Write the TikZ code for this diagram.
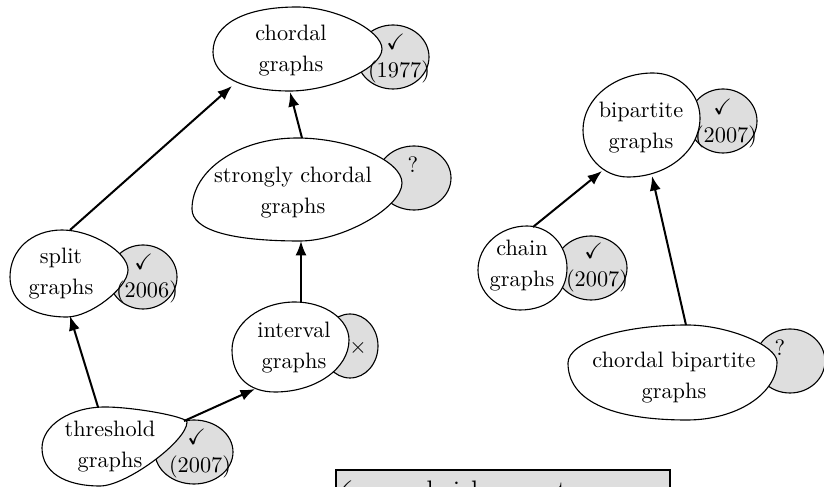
\documentclass[tikz,border=0pt]{standalone}
\usepackage{amssymb}
\usetikzlibrary{arrows.meta}
\begin{document}
\begin{tikzpicture}[x=0.4484pt,y=-0.4484pt,
  whiteblob/.style={draw=black, line width=0.5pt, fill=white},
  grayblob/.style={draw=black, line width=0.5pt, fill=black!13},
  lbl/.style={align=center, font=\fontsize{10}{14}\selectfont, inner sep=0pt},
  res/.style={align=center, font=\fontsize{10}{12.5}\selectfont, inner sep=0pt},
  arr/.style={line width=0.9pt, -{Latex[length=6.5pt,width=5pt]}}]
\useasboundingbox (0,0) rectangle (824,487);
\clip (0,0) rectangle (824,487);

% gray result blobs
\filldraw[grayblob] (393,57) ellipse [x radius=36, y radius=32];
\filldraw[grayblob] (414,178) ellipse [x radius=37, y radius=32];
\filldraw[grayblob] (143,277) ellipse [x radius=34, y radius=32];
\filldraw[grayblob] (350,346) ellipse [x radius=28, y radius=32];
\filldraw[grayblob] (194,452) ellipse [x radius=39, y radius=32];
\filldraw[grayblob] (723,121) ellipse [x radius=34, y radius=32];
\filldraw[grayblob] (591,268) ellipse [x radius=36, y radius=32];
\filldraw[grayblob] (790,361) ellipse [x radius=35, y radius=32];

% white class blobs
% chordal
\draw[whiteblob] (213,52) .. controls +(0,-27.9) and +(-52.1,0) .. (297,7)
  .. controls +(38.3,0) and +(0,-18.9) .. (382,49)
  .. controls +(0,18.9) and +(41.4,0) .. (290,91)
  .. controls +(-47.7,0) and +(0,24.2) .. (213,52) -- cycle;
% strongly chordal
\draw[whiteblob] (192,209) .. controls +(0,-39) and +(-57.8,0) .. (297,138)
  .. controls +(52.5,0) and +(0,-22.5) .. (402,183)
  .. controls +(0,24.4) and +(42.8,0) .. (300,241)
  .. controls +(-70.2,0) and +(0,20.8) .. (192,209) -- cycle;
% split
\draw[whiteblob] (10,277) .. controls +(0,-27.3) and +(-30.2,0) .. (62,230)
  .. controls +(29.7,0) and +(0,-18) .. (128,270)
  .. controls +(0,17.9) and +(23.2,0) .. (67,317)
  .. controls +(-35.3,0) and +(0,24.8) .. (10,277) -- cycle;
% interval
\draw[whiteblob] (232,350) .. controls +(0,-26.4) and +(-34.7,0) .. (295,302)
  .. controls +(29.7,0) and +(0,-20.9) .. (349,340)
  .. controls +(0,28.6) and +(40.7,0) .. (275,392)
  .. controls +(-26.7,0) and +(0,26) .. (232,350) -- cycle;
% threshold
\draw[whiteblob] (42,448) .. controls +(0,-22.6) and +(-34.7,0) .. (105,407)
  .. controls +(28.7,0) and +(0,-5.3) .. (187,422)
  .. controls +(0,19.2) and +(26.1,0) .. (100,486)
  .. controls +(-36,0) and +(0,23.6) .. (42,448) -- cycle;
% bipartite
\draw[whiteblob] (583,130) .. controls +(0,-31.4) and +(-38.5,0) .. (653,73)
  .. controls +(25.9,0) and +(0,-24.8) .. (700,118)
  .. controls +(0,32.5) and +(39.6,0) .. (628,177)
  .. controls +(-24.8,0) and +(0,25.9) .. (583,130) -- cycle;
% chain
\draw[whiteblob] (478,270) .. controls +(0,-24.2) and +(-27,0) .. (527,226)
  .. controls +(22,0) and +(0,-23.1) .. (567,268)
  .. controls +(0,25.2) and +(28.2,0) .. (520,310)
  .. controls +(-23.1,0) and +(0,22) .. (478,270) -- cycle;
% chordal bipartite
\draw[whiteblob] (568,363) .. controls +(0,-20.9) and +(-65.5,0) .. (687,325)
  .. controls +(40.5,0) and +(0,-16.7) .. (777,362)
  .. controls +(0,31.9) and +(49.5,0) .. (687,420)
  .. controls +(-77.4,0) and +(0,37) .. (568,363) -- cycle;

% class labels
\node[lbl] (chordal) at (291,50.3) {chordal\\graphs};
\node[lbl] (strongly) at (293,192.7) {strongly chordal\\graphs};
\node[lbl] (split) at (61,273.5) {split\\graphs};
\node[lbl] (interval) at (294,347.7) {interval\\graphs};
\node[lbl] (threshold) at (110,446.2) {threshold\\graphs};
\node[lbl] (bipartite) at (641,127.7) {bipartite\\graphs};
\node[lbl] (chain) at (522,265.2) {chain\\graphs};
\node[lbl] (chordbip) at (674,377.7) {chordal bipartite\\graphs};

% result labels
\node[res] (chordalres) at (399,58.3) {\mbox{\checkmark\kern3pt}\\(1977)};
\node[res] (splitres) at (147,278.3) {\mbox{\checkmark\kern3pt}\\(2006)};
\node[res] (thresholdres) at (200,453.3) {\mbox{\checkmark\kern3pt}\\(2007)};
\node[res] (bipartiteres) at (726,123.7) {\mbox{\checkmark\kern3pt}\\(2007)};
\node[res] (chainres) at (597,267.3) {\mbox{\checkmark\kern3pt}\\(2007)};
\node[res] (stronglyres) at (413,165) {?};
\node[res] (intervalres) at (358,348) {$\times$};
\node[res] (chordbipres) at (780,348) {?};

% connector end points on the blob outlines
\coordinate (split-top) at (70,230);
\coordinate (chordal-in1) at (232,86);
\coordinate (strongly-top) at (302,138);
\coordinate (chordal-in2) at (290,92);
\coordinate (interval-top) at (301,303);
\coordinate (strongly-bot) at (301,241);
\coordinate (threshold-top) at (98,407);
\coordinate (split-bot) at (70,316);
\coordinate (threshold-right) at (184,421);
\coordinate (interval-in) at (255,389);
\coordinate (chain-top) at (533,227);
\coordinate (bipartite-in1) at (602,171);
\coordinate (chordbip-top) at (686,325);
\coordinate (bipartite-in2) at (652,176);

\draw[arr] (split-top) -- (chordal-in1);
\draw[arr] (strongly-top) -- (chordal-in2);
\draw[arr] (interval-top) -- (strongly-bot);
\draw[arr] (threshold-top) -- (split-bot);
\draw[arr] (threshold-right) -- (interval-in);
\draw[arr] (chain-top) -- (bipartite-in1);
\draw[arr] (chordbip-top) -- (bipartite-in2);

% legend (cut by the lower edge)
\draw[line width=0.5pt, fill=black!13] (336,470) rectangle (670,520);
\node[anchor=base west, inner sep=0pt, font=\fontsize{12}{14}\selectfont] (legend) at (331,499.6) {\checkmark\ : sandwich monotone};
\end{tikzpicture}
\end{document}
